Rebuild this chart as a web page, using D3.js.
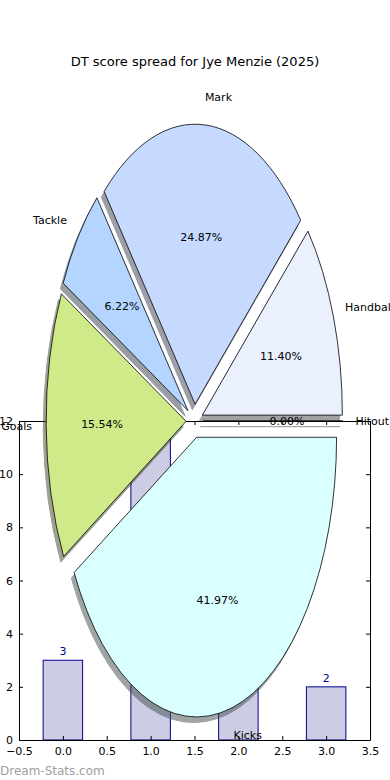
<!DOCTYPE html>
<html><head><meta charset="utf-8">
<script src="https://cdn.jsdelivr.net/npm/d3@7"></script>
<style>body{margin:0;background:#fff}svg{display:block;font-family:"DejaVu Sans",sans-serif}</style>
</head><body>
<script>
const title = "DT score spread for Jye Menzie (2025)";
const pieLabels = ["Hitout","Handball","Mark","Tackle","Goals","Kicks"];
const pieValues = [0, 22, 48, 12, 30, 81];
const pieColors = ["#f0f0ff","#eaf0fe","#c6d9ff","#b3d5ff","#d0ea8a","#d9ffff"];
const barCategories = [0, 1, 2, 3];
const barValues = [3, 12, 5, 2];
const xTicks = [-0.5, 0, 0.5, 1, 1.5, 2, 2.5, 3, 3.5];
const yTicks = [0, 2, 4, 6, 8, 10, 12];

const W = 390, H = 780;
const svg = d3.select("body").append("svg").attr("width", W).attr("height", H);

// ---- bar axes ----
const x = d3.scaleLinear().domain([-0.5, 3.5]).range([19, 370]);
const y = d3.scaleLinear().domain([0, 12]).range([740, 421]);
const barW = 0.45;
const gb = svg.append("g");
gb.selectAll("rect.bar").data(barValues).join("rect").attr("class","bar")
  .attr("x", (d,i)=>x(barCategories[i]-barW/2)).attr("width", x(barW)-x(0))
  .attr("y", d=>y(Math.min(d,12))).attr("height", d=>y(0)-y(Math.min(d,12)))
  .attr("fill","#cccce4").attr("stroke","#00008b").attr("stroke-width",1);
gb.selectAll("text.bl").data(barValues).join("text").attr("class","bl")
  .attr("x", (d,i)=>x(barCategories[i])).attr("y", d=>y(d)-5)
  .attr("text-anchor","middle").attr("font-size",11).attr("fill","#00008b").text(d=>d);

const axB = d3.axisBottom(x).tickValues(xTicks).tickFormat(d3.format(".1f")).tickSizeInner(-4).tickSizeOuter(0).tickPadding(7);
const axT = d3.axisTop(x).tickValues(xTicks).tickFormat("").tickSizeInner(-4).tickSizeOuter(0);
const axL = d3.axisLeft(y).tickValues(yTicks).tickFormat(d3.format("d")).tickSizeInner(-4).tickSizeOuter(0).tickPadding(6);
const axR = d3.axisRight(y).tickValues(yTicks).tickFormat("").tickSizeInner(-4).tickSizeOuter(0);
function styleAx(g){ g.selectAll("text").attr("font-size",11).attr("fill","#000").attr("font-family","DejaVu Sans");
  g.select(".domain").attr("stroke","#000"); g.selectAll("line").attr("stroke","#000"); g.attr("font-family", null);}
gb.append("g").attr("transform","translate(0,740)").call(axB).call(styleAx);
gb.append("g").attr("transform","translate(0,421)").call(axT).call(styleAx);
gb.append("g").attr("transform","translate(19,0)").call(axL).call(styleAx);
gb.append("g").attr("transform","translate(370,0)").call(axR).call(styleAx);

// ---- pie ----
const cx = 194.5, cy = 421, rx = 140, ry = 280, explode = 0.06;
const total = d3.sum(pieValues);
const pie = d3.pie().sort(null).startAngle(0).endAngle(2*Math.PI);
const arcs = pie(pieValues).map((a,i)=>{
  const t0 = a.startAngle, t1 = a.endAngle, tm = (t0+t1)/2;
  return {i, t0, t1, tm, v: pieValues[i]};
});
const arcGen = d3.arc().innerRadius(0).outerRadius(1);
const gp = svg.append("g");
function wedgePath(a){ return arcGen({startAngle: Math.PI/2 - a.t1, endAngle: Math.PI/2 - a.t0}); }
function off(a, k){ return [cx + k*rx*Math.cos(a.tm), cy - k*ry*Math.sin(a.tm)]; }
gp.selectAll("path.sh").data(arcs).join("path").attr("class","sh")
  .attr("d", wedgePath)
  .attr("transform", a=>{const [ox,oy]=off(a, explode); return `translate(${ox-0.02*rx},${oy+0.02*ry}) scale(${rx},${ry})`;})
  .attr("fill", a=>{const c=d3.rgb(pieColors[a.i]); return d3.rgb(c.r*0.3,c.g*0.3,c.b*0.3);})
  .attr("stroke", a=>{const c=d3.rgb(pieColors[a.i]); return d3.rgb(c.r*0.3,c.g*0.3,c.b*0.3);})
  .attr("stroke-width",1).attr("vector-effect","non-scaling-stroke").attr("opacity",0.5);
gp.selectAll("path.w").data(arcs).join("path").attr("class","w")
  .attr("d", wedgePath)
  .attr("transform", a=>{const [ox,oy]=off(a, explode); return `translate(${ox},${oy}) scale(${rx},${ry})`;})
  .attr("fill", a=>pieColors[a.i]).attr("stroke","#000").attr("stroke-width",0.8)
  .attr("vector-effect","non-scaling-stroke").attr("stroke-linejoin","miter");
gp.selectAll("text.lab").data(arcs).join("text").attr("class","lab")
  .attr("x", a=>off(a, 1.1+explode)[0]-(Math.cos(a.tm)>0?1.5:0)).attr("y", a=>off(a, 1.1+explode)[1])
  .attr("dy","0.35em").attr("font-size",11).attr("fill","#000")
  .attr("text-anchor", a=>Math.cos(a.tm)>0?"start":"end").text(a=>pieLabels[a.i]);
gp.selectAll("text.pct").data(arcs).join("text").attr("class","pct")
  .attr("x", a=>off(a, 0.6+explode)[0]).attr("y", a=>off(a, 0.6+explode)[1])
  .attr("dy","0.35em").attr("font-size",11).attr("fill","#000").attr("text-anchor","middle")
  .text(a=>(a.v/total*100).toFixed(2)+"%");

svg.append("text").attr("x",195).attr("y",61).attr("dy","0.35em").attr("text-anchor","middle")
  .attr("font-size",13).attr("fill","#000").text(title);
svg.append("text").attr("x",0).attr("y",771).attr("dy","0.35em").attr("font-size",12)
  .attr("fill","#a0a0a0").text("Dream-Stats.com");
</script>
</body></html>
